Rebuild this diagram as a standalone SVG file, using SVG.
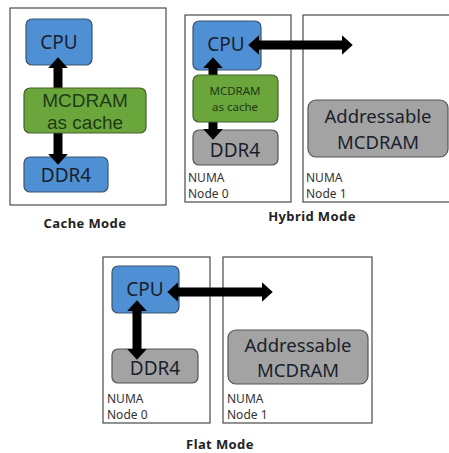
<svg xmlns="http://www.w3.org/2000/svg" width="449" height="453" viewBox="0 0 449 453">
<style>
.frame{fill:#fff;stroke:#4a4a4a;stroke-width:1.2}
.blue{fill:#4f8fd4;stroke:#3a556e;stroke-width:1.2}
.green{fill:#6aa63c;stroke:#44612c;stroke-width:1.2}
.gray{fill:#a3a3a3;stroke:#555;stroke-width:1.2}
.t{font-family:"Noto Sans","Open Sans",sans-serif;fill:#1a1f2e;text-anchor:middle}
.g{fill:#1f3a14}
.lib{font-family:"Liberation Sans",Arial,sans-serif}
.n{font-family:"Noto Sans","Open Sans",sans-serif;font-size:12px;fill:#333}
.cap{font-family:"Noto Sans","Open Sans",sans-serif;font-size:13px;font-weight:bold;fill:#222;text-anchor:middle;letter-spacing:0.4px}
.ar{stroke:#000;stroke-width:9;fill:none;marker-start:url(#ah);marker-end:url(#ah)}
</style>
<defs>
<marker id="ah" viewBox="0 0 10 10" refX="1" refY="5" markerWidth="1.2" markerHeight="2.2" orient="auto-start-reverse" markerUnits="strokeWidth" preserveAspectRatio="none">
<path d="M0,0 L10,5 L0,10 z" fill="#000"/>
</marker>
</defs>
<rect width="449" height="453" fill="#fff"/>
<!-- Cache mode -->
<g id="cache-frame"><rect class="frame" x="10" y="8" width="156" height="197"/></g>
<g id="cache-cpu"><rect class="blue" x="26" y="19" width="66" height="46" rx="6"/><text class="t" x="59" y="49" font-size="19">CPU</text></g>
<g id="cache-ddr4"><rect class="blue" x="24" y="157" width="84" height="35" rx="6"/><text class="t" x="66" y="182" font-size="19">DDR4</text></g>
<g id="connectors-cache"><line class="ar" x1="58" y1="67" x2="58" y2="155"/></g>
<g id="cache-mcdram"><rect class="green" x="24" y="88" width="122" height="45" rx="6"/><text class="t g lib" x="85" y="107" font-size="19">MCDRAM</text><text class="t g lib" x="85" y="129" font-size="19">as cache</text></g>
<text class="cap" x="85" y="228">Cache  Mode</text>
<!-- Hybrid mode -->
<g id="hybrid-node0"><rect class="frame" x="185" y="15" width="106" height="187"/><text class="n" x="188" y="182">NUMA</text><text class="n" x="188" y="198">Node 0</text></g>
<g id="hybrid-node1"><rect class="frame" x="303" y="15" width="150" height="187"/><text class="n" x="306" y="182">NUMA</text><text class="n" x="306" y="198">Node 1</text></g>
<g id="hybrid-cpu"><rect class="blue" x="193" y="21" width="68" height="49" rx="6"/><text class="t" x="226" y="51" font-size="19">CPU</text></g>
<g id="hybrid-ddr4"><rect class="gray" x="193" y="130" width="85" height="35" rx="6"/><text class="t" x="235" y="157" font-size="19">DDR4</text></g>
<g id="hybrid-addr"><rect class="gray" x="308" y="100" width="140" height="57" rx="8"/><text class="t" x="378" y="123" font-size="18.5">Addressable</text><text class="t" x="378" y="149" font-size="18.5">MCDRAM</text></g>
<g id="connectors-hybrid">
<line class="ar" x1="213" y1="67" x2="213" y2="130"/>
<line class="ar" x1="258" y1="45" x2="343" y2="45"/>
</g>
<g id="hybrid-mcdram"><rect class="green" x="193" y="75" width="85" height="47" rx="6"/><text class="t g" x="235" y="95" font-size="11.5">MCDRAM</text><text class="t g" x="235" y="111" font-size="11.5">as cache</text></g>
<text class="cap" x="312" y="221">Hybrid  Mode</text>
<!-- Flat mode -->
<g id="flat-node0"><rect class="frame" x="103" y="257" width="107" height="166"/><text class="n" x="107" y="403">NUMA</text><text class="n" x="107" y="419">Node 0</text></g>
<g id="flat-node1"><rect class="frame" x="223" y="257" width="149" height="166"/><text class="n" x="227" y="403">NUMA</text><text class="n" x="227" y="419">Node 1</text></g>
<g id="flat-cpu"><rect class="blue" x="112" y="266" width="67" height="47" rx="6"/><text class="t" x="145" y="296" font-size="19">CPU</text></g>
<g id="flat-ddr4"><rect class="gray" x="112" y="349" width="86" height="34" rx="6"/><text class="t" x="155" y="375" font-size="19">DDR4</text></g>
<g id="flat-addr"><rect class="gray" x="228" y="330" width="140" height="54" rx="8"/><text class="t" x="298" y="352" font-size="18.5">Addressable</text><text class="t" x="298" y="377" font-size="18.5">MCDRAM</text></g>
<g id="connectors-flat">
<line class="ar" x1="137" y1="310" x2="137" y2="350"/>
<line class="ar" x1="177" y1="292" x2="263" y2="292"/>
</g>
<text class="cap" x="220" y="449">Flat  Mode</text>
</svg>
